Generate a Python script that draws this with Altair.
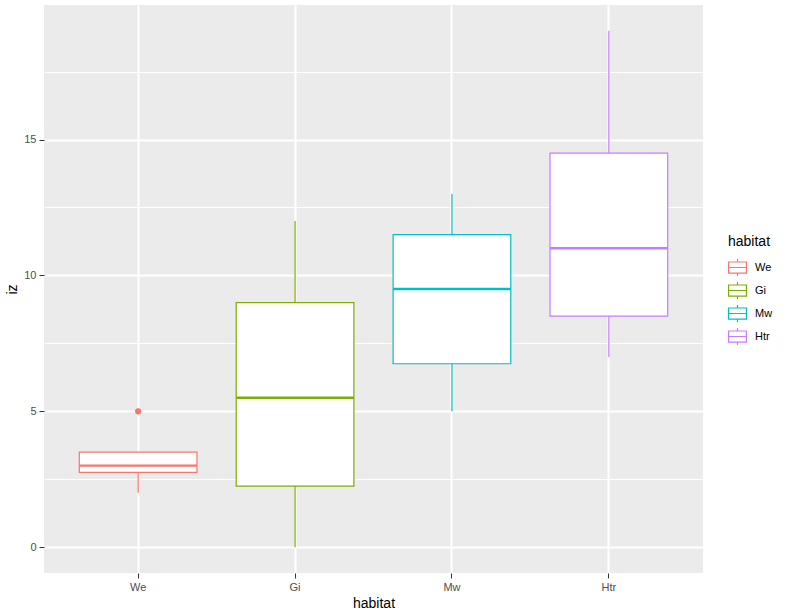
import altair as alt
import pandas as pd

habitats = ["We", "Gi", "Mw", "Htr"]
lower = [2.0, 0.0, 5.0, 7.0]
q1 = [2.75, 2.25, 6.75, 8.5]
median = [3.0, 5.5, 9.5, 11.0]
q3 = [3.5, 9.0, 11.5, 14.5]
upper = [3.5, 12.0, 13.0, 19.0]
outlier_habitat = ["We"]
outlier_value = [5.0]

colors = ["#F8766D", "#7CAE00", "#00BFC4", "#C77CFF"]
y_ticks = [0, 2.5, 5, 7.5, 10, 12.5, 15, 17.5]

stats = pd.DataFrame({"habitat": habitats, "lower": lower, "q1": q1,
                      "median": median, "q3": q3, "upper": upper})
outs = pd.DataFrame({"habitat": outlier_habitat, "iz": outlier_value})

FONT = "Liberation Sans"
xscale = alt.Scale(type="band", domain=habitats, paddingInner=0, paddingOuter=0.1)
yscale = alt.Scale(domain=[-0.95, 19.95], nice=False, zero=False)
cscale = alt.Scale(domain=habitats, range=colors)

box_path = "M-1.05,-0.65L1.05,-0.65L1.05,0.65L-1.05,0.65Z M-1.05,0L1.05,0 M0,-0.65L0,-1 M0,0.65L0,1"
legend = alt.Legend(title="habitat", orient="none", legendX=684, legendY=230,
                    symbolType=box_path, symbolSize=289,
                    symbolStrokeWidth=1.2, symbolFillColor="white",
                    rowPadding=0, labelFontSize=11, titleFontSize=14,
                    titleFontWeight="normal", titleColor="black",
                    labelColor="black", padding=0, titlePadding=9,
                    labelOffset=8)
cenc = alt.Color("habitat:N", scale=cscale, sort=habitats, legend=legend)

xenc = alt.X("habitat:N", scale=xscale, sort=habitats, title="habitat",
             axis=alt.Axis(labelAngle=0, grid=True, gridColor="white", gridWidth=2))
yaxis = alt.Axis(
    values=y_ticks,
    grid=True, gridColor="white",
    gridWidth={"condition": {"test": "datum.value % 5 === 0", "value": 2}, "value": 1},
    tickOpacity={"condition": {"test": "datum.value % 5 === 0", "value": 1}, "value": 0},
    labelExpr="datum.value % 5 === 0 ? datum.label : ''",
    title="iz",
)

whisk = alt.Chart(stats).mark_rule(strokeWidth=1.2).encode(
    x=xenc,
    y=alt.Y("lower:Q", scale=yscale, axis=yaxis),
    y2="upper:Q",
    color=cenc,
)

box = alt.Chart(stats).mark_bar(width={"band": 0.75}, filled=False, fill="white",
                                strokeWidth=1.2).encode(
    x=xenc,
    y=alt.Y("q1:Q", scale=yscale, axis=yaxis),
    y2="q3:Q",
    color=cenc,
)

med = alt.Chart(stats).mark_bar(width={"band": 0.75}, filled=False, strokeWidth=2.4).encode(
    x=xenc,
    y=alt.Y("median:Q", scale=yscale, axis=yaxis),
    y2="median:Q",
    color=cenc,
)

pts = alt.Chart(outs).mark_point(filled=False, size=9, strokeWidth=3.2, opacity=1).encode(
    x=xenc,
    y=alt.Y("iz:Q", scale=yscale, axis=yaxis),
    stroke=alt.Stroke("habitat:N", scale=cscale, legend=None),
)

chart = alt.layer(whisk, box, med, pts).properties(
    width=659, height=568,
    autosize=alt.AutoSizeParams(type="none"),
    padding={"left": 44, "top": 5, "right": 85, "bottom": 42},
    background="white",
).configure_view(fill="#EBEBEB", stroke=None).configure_axis(
    domain=False, tickColor="#333333", tickSize=5, tickWidth=1,
    labelColor="#4D4D4D", labelFontSize=11, labelFont=FONT,
    titleFont=FONT, titleFontSize=14, titleFontWeight="normal", titleColor="black",
    labelPadding=3,
).configure_axisX(titlePadding=4).configure_axisY(titlePadding=4).configure_legend(
    labelFont=FONT, titleFont=FONT,
)

chart.save("out.html", embed_options={"renderer": "svg", "actions": False})
